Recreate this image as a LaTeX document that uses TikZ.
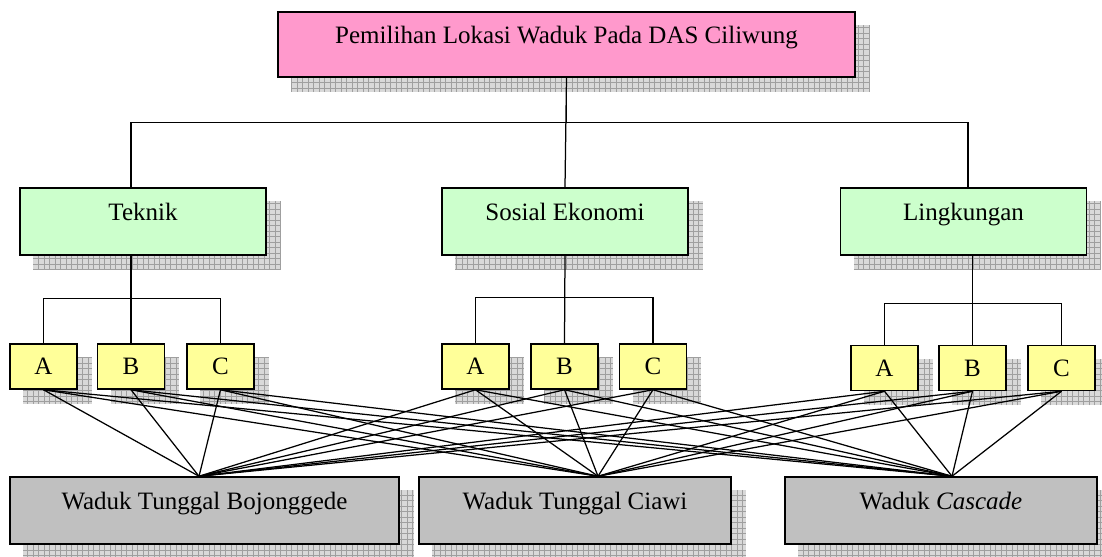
\documentclass[tikz,border=0pt]{standalone}
\usepackage{fontspec}
\setmainfont{Liberation Serif}
\usetikzlibrary{calc,backgrounds}

\definecolor{goalpink}{HTML}{FF99CC}
\definecolor{critgreen}{HTML}{CCFFCC}
\definecolor{subyellow}{HTML}{FFFF99}
\definecolor{altgray}{HTML}{C0C0C0}

\tikzset{
  box/.style={draw, line width=0.6pt, inner sep=0pt},
  bigbox/.style={box, text height=7pt, text depth=7.6pt},
  goalbox/.style={bigbox, fill=goalpink, minimum width=230.8pt, minimum height=26pt},
  critbox/.style={bigbox, fill=critgreen, minimum width=98.4pt, minimum height=26.8pt},
  subbox/.style={box, fill=subyellow, minimum width=26.8pt, minimum height=18pt},
  altbox/.style={bigbox, fill=altgray, minimum height=26.8pt},
  link/.style={line width=0.5pt}
}

\begin{document}
\begin{tikzpicture}[x=0.4pt,y=-0.4pt,font=\fontsize{10}{12}\selectfont]
      \useasboundingbox (0,0) rectangle (1102,556);

      \node[goalbox] (top) at (566.5,44.5) {Pemilihan Lokasi Waduk Pada DAS Ciliwung};

      \node[critbox] (tk) at (143,221.5) {Teknik};
      \node[critbox] (se) at (565,221.5) {Sosial Ekonomi};
      \node[critbox] (lk) at (963.5,221.5) {Lingkungan};

      \node[subbox] (ta) at (43.5,366.5) {A};
      \node[subbox] (tb) at (131,366.5) {B};
      \node[subbox] (tc) at (220.5,366.5) {C};
      \node[subbox] (sa) at (475.5,366.5) {A};
      \node[subbox] (sb) at (564.5,366.5) {B};
      \node[subbox] (sc) at (653,366.5) {C};
      \node[subbox] (la) at (884.5,368) {A};
      \node[subbox] (lb) at (972.5,368) {B};
      \node[subbox] (lc) at (1061.5,368) {C};

      \node[altbox,minimum width=155.6pt] (bj) at (204.5,510.5) {Waduk Tunggal Bojonggede};
      \node[altbox,minimum width=124.8pt] (cw) at (575,510.5) {Waduk Tunggal Ciawi};
      \node[altbox,minimum width=124.8pt] (cs) at (941,510.5) {Waduk \textit{Cascade}};

      % shadows
      \begin{scope}[on background layer]
        \foreach \n in {top,tk,se,lk,ta,tb,tc,sa,sb,sc,la,lb,lc,bj,cw,cs} {
          \fill[gray!30] ([xshift=5.6pt,yshift=-5.6pt]\n.south west) rectangle ([xshift=5.6pt,yshift=-5.6pt]\n.north east);
          \draw[gray!75, line width=0.3pt, step=2.2pt] ([xshift=5.6pt,yshift=-5.6pt]\n.south west) grid ([xshift=5.6pt,yshift=-5.6pt]\n.north east);
        }
      \end{scope}

      % hierarchy
      \draw[link] (top.south) -- ++(0,45) -| ($(tk.north)+(-12,0)$);
      \draw[link] (top.south) -- (se.north);
      \draw[link] (top.south) -- ++(0,45) -| ($(lk.north)+(4.5,0)$);

      \draw[link] ($(tk.south)+(-12,0)$) -- (tb.north);
      \draw[link] (ta.north) -- ++(0,-45) -| (tc.north);
      \draw[link] (se.south) -- (sb.north);
      \draw[link] (sa.north) -- ++(0,-46) -| (sc.north);
      \draw[link] (lk.south -| lb.north) -- (lb.north);
      \draw[link] (la.north) -- ++(0,-41) -| (lc.north);

      % alternatives
      \coordinate (pb) at ($(bj.north)+(-5.5,0)$);
      \coordinate (pc) at ($(cw.north)+(23,0)$);
      \coordinate (pk) at ($(cs.north)+(11,0)$);
      \foreach \s in {ta,tb,tc,sa,sb,sc,la,lb,lc}
        \foreach \t in {pb,pc,pk}
          \draw[link] (\s.south) -- (\t);
    \end{tikzpicture}
\end{document}
